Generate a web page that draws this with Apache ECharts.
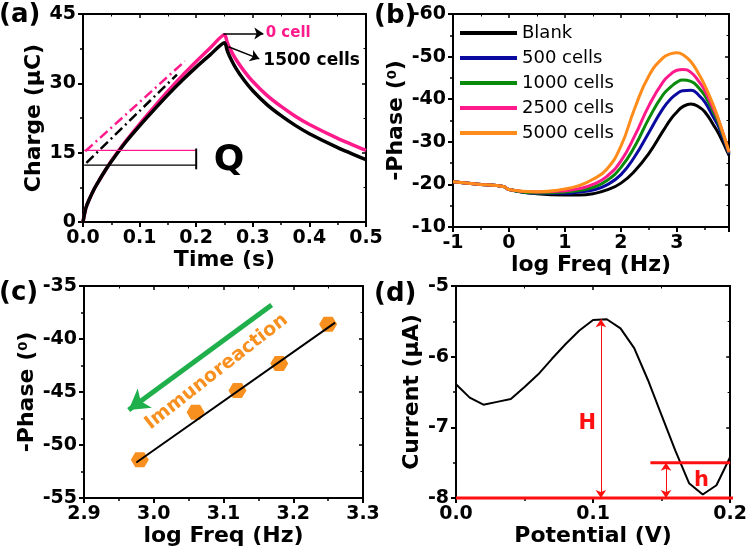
<!DOCTYPE html>
<html><head><meta charset="utf-8">
<script src="https://cdn.jsdelivr.net/npm/echarts@6/dist/echarts.min.js"></script>
<style>html,body{margin:0;padding:0;background:#fff}#c{width:750px;height:555px}</style>
</head><body><div id="c"></div>
<script>
// ---------- (a) chronocoulometry ----------
const aTime = [0,0.005,0.01,0.02,0.03,0.04,0.05,0.075,0.1,0.125,0.15,0.175,0.2,0.225,0.25,0.255,0.26,0.27,0.285,0.3,0.325,0.35,0.375,0.4,0.45,0.5];
const aCharge0 = [0,3.0,4.6,7.2,9.3,11.3,13.2,17.4,21.2,24.8,28.3,31.6,34.7,37.7,40.5,38.8,37.4,35.2,32.6,30.4,27.4,25.0,22.9,21.1,18.1,15.5];
const aCharge1500 = [0,3.0,4.6,7.2,9.3,11.3,13.1,17.2,20.8,24.2,27.5,30.6,33.5,36.2,38.8,37.0,35.6,33.3,30.6,28.4,25.4,23.0,20.9,19.1,16.1,13.5];
const aTangent0 = [[0.004,15.3],[0.18,34.8]];
const aTangent1500 = [[0.006,12.8],[0.166,31.9]];
const aLevel0 = [[0.002,15.5],[0.2,15.5]];
const aLevel1500 = [[0.002,12.3],[0.2,12.3]];
const aBar = [[0.2,11.4],[0.2,15.9]];
const aXTicks = [0, 0.5, 0.1];   // min, max, step
const aYTicks = [0, 45, 15];

// ---------- (b) Bode phase ----------
const bLogF  = [-1,-0.5,-0.1,0,0.5,1,1.25,1.5,1.75,2,2.25,2.5,2.75,2.9,3.0,3.1,3.25,3.4,3.5,3.65,3.75,3.93];
const bBlank = [-20.6,-20.0,-19.5,-18.8,-17.8,-17.5,-17.5,-17.8,-18.7,-20.3,-23.2,-27.3,-32.5,-35.5,-37.0,-38.2,-38.9,-38.1,-37.0,-34.0,-31.8,-26.8];
const b500   = [-20.6,-20.0,-19.5,-18.8,-17.9,-17.9,-18.2,-18.7,-19.9,-22.3,-26.6,-32.2,-37.8,-40.2,-41.3,-42.0,-42.1,-40.8,-39.3,-35.8,-33.4,-27.1];
const b1000  = [-20.6,-20.0,-19.5,-18.8,-18.0,-18.2,-18.6,-19.3,-20.9,-24.0,-29.0,-35.5,-41.0,-43.0,-44.0,-44.5,-44.2,-42.5,-40.8,-37.0,-34.2,-27.3];
const b2500  = [-20.6,-20.0,-19.5,-18.8,-18.2,-18.5,-19.0,-20.0,-21.9,-25.5,-31.5,-38.5,-44.0,-46.0,-46.8,-47.0,-46.3,-44.0,-42.0,-37.8,-34.8,-27.5];
const b5000  = [-20.6,-20.0,-19.5,-18.8,-18.3,-18.9,-19.7,-21.2,-23.6,-29.0,-38.0,-45.5,-49.7,-50.7,-50.9,-50.5,-48.8,-45.7,-43.2,-38.6,-35.0,-27.7];
const bNames = ['Blank','500 cells','1000 cells','2500 cells','5000 cells'];

// ---------- (c) calibration ----------
const cLogF = [2.98,3.06,3.12,3.18,3.25];
const cPhase = [-51.4,-46.9,-44.85,-42.3,-38.6];
const cFit = [[2.975,-51.65],[3.26,-38.45]];
const cArrow = [[3.169,-36.8],[2.964,-46.7]];

// ---------- (d) DPV ----------
const dPot = [0,0.01,0.02,0.03,0.04,0.05,0.06,0.07,0.08,0.09,0.10,0.11,0.12,0.13,0.14,0.15,0.16,0.17,0.18,0.19,0.20];
const dCurrent = [-6.39,-6.58,-6.68,-6.64,-6.60,-6.43,-6.25,-6.03,-5.82,-5.63,-5.48,-5.47,-5.60,-5.88,-6.33,-6.83,-7.33,-7.79,-7.95,-7.82,-7.42];
const dBase = [[0,-8],[0.2063,-8]];
const dLevel = [[0.1418,-7.5],[0.2,-7.5]];
const dH = [[0.1057,-5.47],[0.1057,-8]];
const dh = [[0.1532,-7.5],[0.1532,-8]];

const FF = 'DejaVu Sans';
const PINK = '#ff1a8c', ORANGE = '#ff8c1a', RED = '#ff1010';

const zip = (xs, ys) => xs.map((x, i) => [x, ys[i]]);

function mainX(gi, ext, name, gap, fmt, extra) {
  return Object.assign({
    type:'value', gridIndex:gi, position:'bottom', min:ext[0], max:ext[1], interval:ext[2],
    splitLine:{show:false},
    axisLine:{show:true,onZero:false,lineStyle:{color:'#000',width:2}},
    axisTick:{show:true,length:5,lineStyle:{color:'#000',width:2}},
    minorTick:{show:true,splitNumber:2,length:3,lineStyle:{color:'#000',width:1.5}},
    axisLabel:{color:'#000',fontFamily:FF,fontWeight:'bold',fontSize:19,margin:7,formatter:fmt},
    name:name, nameLocation:'middle', nameGap:gap,
    nameTextStyle:{color:'#000',fontFamily:FF,fontWeight:'bold',fontSize:22}
  }, extra || {});
}
function mainY(gi, ext, name, gap, extra) {
  return Object.assign({
    type:'value', gridIndex:gi, position:'left', min:ext[0], max:ext[1], interval:ext[2],
    splitLine:{show:false},
    axisLine:{show:true,onZero:false,lineStyle:{color:'#000',width:2}},
    axisTick:{show:true,length:5,lineStyle:{color:'#000',width:2}},
    minorTick:{show:true,splitNumber:2,length:3,lineStyle:{color:'#000',width:1.5}},
    axisLabel:{color:'#000',fontFamily:FF,fontWeight:'bold',fontSize:19,margin:7},
    name:name, nameLocation:'middle', nameGap:gap, nameRotate:90,
    nameTextStyle:{color:'#000',fontFamily:FF,fontWeight:'bold',fontSize:22,
      rich:{s:{fontSize:13,fontWeight:'bold',fontFamily:FF,color:'#000',verticalAlign:'top',padding:[0,0,6,0]}}}
  }, extra || {});
}
function frame(gi, ext, pos, extra) {
  return Object.assign({
    type:'value', gridIndex:gi, position:pos, min:ext[0], max:ext[1], interval:ext[2],
    splitLine:{show:false},
    axisLine:{show:true,onZero:false,lineStyle:{color:'#000',width:2}},
    axisTick:{show:true,inside:true,length:4,lineStyle:{color:'#000',width:1.5}},
    minorTick:{show:true,splitNumber:2,length:2.5,lineStyle:{color:'#000',width:1}},
    axisLabel:{show:false}
  }, extra || {});
}
function textPt(gi, x, y, text, style) {
  return {type:'scatter', xAxisIndex:gi, yAxisIndex:gi, data:[[x,y]], symbolSize:1, silent:true, z:6,
    itemStyle:{color:'rgba(0,0,0,0)', opacity:1},
    label:Object.assign({show:true, position:'inside', formatter:text, fontFamily:FF, fontWeight:'bold', opacity:1}, style)};
}
function seg(gi, pts, style, extra) {
  return Object.assign({type:'line', xAxisIndex:gi, yAxisIndex:gi, data:pts, showSymbol:false, symbol:'none',
    silent:true, lineStyle:style}, extra || {});
}
function arrow(p, q, startSym, endSym, size) {
  return [{coord:p, symbol:startSym, symbolSize:size}, {coord:q, symbol:endSym, symbolSize:size}];
}

const f1 = v => v.toFixed(1);
const bExt = [-1, 3.93, 1];
const cX = [2.9, 3.3, 0.1], cY = [-55, -35, 5];
const dX = [0, 0.2, 0.1], dY = [-8, -5, 1];

const bColors = ['#000000','#0a0aa0','#0a8a0a',PINK,ORANGE];

const series = [
  // (a)
  {type:'line', name:'0 cell', xAxisIndex:0, yAxisIndex:0, data:zip(aTime,aCharge0), showSymbol:false, symbol:'none',
   smooth:0.25, lineStyle:{color:PINK,width:3.5}},
  {type:'line', name:'1500 cells', xAxisIndex:0, yAxisIndex:0, data:zip(aTime,aCharge1500), showSymbol:false, symbol:'none',
   smooth:0.25, lineStyle:{color:'#000',width:3.5},
   markLine:{silent:true, label:{show:false}, lineStyle:{color:'#000',width:1.5,type:'solid'},
     data:[arrow([0.248,40.8],[0.3186,40.8],'none','arrow',9), arrow([0.2568,37.9],[0.3115,35.3],'none','arrow',9)]}},
  seg(0, aTangent0, {color:PINK,width:2.5,type:[10,4,2,4]}),
  seg(0, aTangent1500, {color:'#000',width:2.5,type:[10,4,2,4]}),
  seg(0, aLevel0, {color:PINK,width:1.3}),
  seg(0, aLevel1500, {color:'#000',width:1.2}),
  seg(0, aBar, {color:'#000',width:2}),
  textPt(0, 0.258, 13.2, 'Q', {fontSize:36, color:'#000'}),
  textPt(0, 0.3228, 40.8, '0 cell', {fontSize:15, color:PINK, align:'left'}),
  textPt(0, 0.3186, 35.0, '1500 cells', {fontSize:17, color:'#000', align:'left'}),
  // (b)
  ...[bBlank,b500,b1000,b2500,b5000].map((arr,i) => ({
    type:'line', name:bNames[i], xAxisIndex:1, yAxisIndex:1, data:zip(bLogF,arr), showSymbol:false, symbol:'none',
    smooth:0.5, color:bColors[i], lineStyle:{color:bColors[i],width:3}, z:2+i*0.01
  })),
  // (c)
  {type:'scatter', name:'cal', xAxisIndex:2, yAxisIndex:2, data:zip(cLogF,cPhase),
   symbol:'path://M0,5 L2.9,0 L8.7,0 L11.6,5 L8.7,10 L2.9,10 Z', symbolSize:[18,15], itemStyle:{color:'#f7901e',opacity:1}},
  seg(2, cFit, {color:'#000',width:2}, {
    markLine:{silent:true, label:{show:false}, lineStyle:{color:'#1fb04c',width:5,type:'solid'},
      data:[arrow(cArrow[0],cArrow[1],'none','arrow',[18,20])]}}),
  textPt(2, 3.09, -43.1, 'Immunoreaction', {fontSize:19, color:'#f7901e', rotate:38}),
  // (d)
  {type:'line', name:'dpv', xAxisIndex:3, yAxisIndex:3, data:zip(dPot,dCurrent), showSymbol:false, symbol:'none',
   lineStyle:{color:'#000',width:2}},
  seg(3, dBase, {color:RED,width:3}, {clip:false, z:4}),
  seg(3, dLevel, {color:RED,width:3}, {clip:false, z:4,
    markLine:{silent:true, label:{show:false}, lineStyle:{color:RED,width:1,type:'solid'},
      data:[arrow(dH[0],dH[1],'arrow','arrow',8), arrow(dh[0],dh[1],'arrow','arrow',8)]}}),
  textPt(3, 0.0957, -6.95, 'H', {fontSize:21, color:RED}),
  textPt(3, 0.179, -7.76, 'h', {fontSize:21, color:RED})
];

const option = {
  animation:false,
  backgroundColor:'#fff',
  textStyle:{fontFamily:FF},
  title:[
    {text:'(a)', left:-1, top:2, textStyle:{fontFamily:FF,fontWeight:'bold',fontSize:26,color:'#000'}, padding:0},
    {text:'(b)', left:374, top:3, textStyle:{fontFamily:FF,fontWeight:'bold',fontSize:26,color:'#000'}, padding:0},
    {text:'(c)', left:-1, top:280, textStyle:{fontFamily:FF,fontWeight:'bold',fontSize:26,color:'#000'}, padding:0},
    {text:'(d)', left:374, top:281, textStyle:{fontFamily:FF,fontWeight:'bold',fontSize:26,color:'#000'}, padding:0}
  ],
  legend:{data:bNames, orient:'vertical', left:460, top:24, padding:0, itemWidth:57, itemHeight:4, itemGap:7, icon:'rect',
    selectedMode:false, textStyle:{fontFamily:FF,fontSize:18,color:'#000'}},
  grid:[
    {left:83, top:14, width:283, height:208},
    {left:453, top:14, width:276, height:213},
    {left:84, top:286, width:279, height:212},
    {left:456, top:286, width:276, height:212}
  ],
  xAxis:[
    mainX(0, aXTicks, 'Time (s)', 23, f1),
    mainX(1, bExt, 'log Freq (Hz)', 23, v => String(Math.round(v)), {axisLabel:{color:'#000',fontFamily:FF,fontWeight:'bold',fontSize:19,margin:7,showMaxLabel:false,formatter:v => String(Math.round(v))}}),
    mainX(2, cX, 'log Freq (Hz)', 24, f1),
    mainX(3, dX, 'Potential (V)', 26, f1),
    frame(0, aXTicks, 'top'), frame(1, bExt, 'top'), frame(2, cX, 'top'), frame(3, dX, 'top')
  ],
  yAxis:[
    mainY(0, aYTicks, 'Charge (μC)', 36),
    mainY(1, [-60,-10,10], '-Phase ({s|0})', 39, {inverse:true}),
    mainY(2, cY, '-Phase ({s|0})', 39),
    mainY(3, dY, 'Current (μA)', 33),
    frame(0, aYTicks, 'right'), frame(1, [-60,-10,10], 'right', {inverse:true}), frame(2, cY, 'right'), frame(3, dY, 'right')
  ],
  series:series
};
const chart = echarts.init(document.getElementById('c'), null, {renderer:'canvas'});
chart.setOption(option);
</script></body></html>
